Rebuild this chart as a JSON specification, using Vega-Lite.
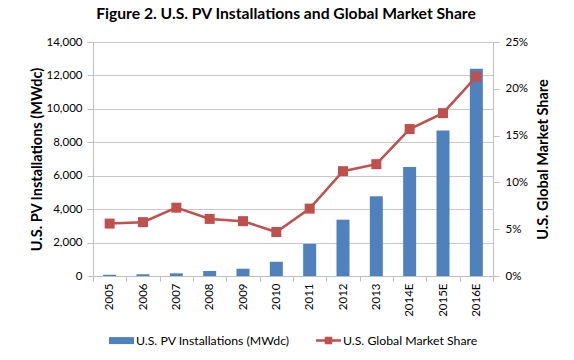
{
  "$schema": "https://vega.github.io/schema/vega-lite/v6.json",
  "width": 400,
  "height": 234,
  "autosize": {"type": "none"},
  "padding": {"left": 93, "top": 42, "right": 81, "bottom": 84},
  "background": "white",
  "title": {
    "text": "Figure 2. U.S. PV Installations and Global Market Share",
    "font": "Lato",
    "fontSize": 15.7,
    "fontWeight": "bold",
    "color": "#000000",
    "anchor": "middle",
    "offset": 13,
    "dx": -7
  },
  "data": {
    "values": [
      {"year": "2005", "mw": 79, "share": 0.056},
      {"year": "2006", "mw": 105, "share": 0.0575},
      {"year": "2007", "mw": 160, "share": 0.073},
      {"year": "2008", "mw": 300, "share": 0.061},
      {"year": "2009", "mw": 435, "share": 0.0586},
      {"year": "2010", "mw": 852, "share": 0.047},
      {"year": "2011", "mw": 1919, "share": 0.072},
      {"year": "2012", "mw": 3369, "share": 0.112},
      {"year": "2013", "mw": 4776, "share": 0.1195},
      {"year": "2014E", "mw": 6520, "share": 0.157},
      {"year": "2015E", "mw": 8700, "share": 0.174},
      {"year": "2016E", "mw": 12400, "share": 0.213}
    ]
  },
  "encoding": {
    "x": {
      "field": "year",
      "type": "ordinal",
      "sort": null,
      "scale": {"paddingInner": 0, "paddingOuter": 0},
      "axis": {
        "title": null,
        "labelAngle": -90,
        "labelFont": "Lato",
        "labelFontSize": 11.5,
        "labelColor": "#000000",
        "tickBand": "extent",
        "tickSize": 5,
        "tickColor": "#bfbfbf",
        "domainColor": "#bfbfbf",
        "labelPadding": 2,
        "grid": false
      }
    }
  },
  "layer": [
    {
      "mark": {"type": "bar", "size": 13},
      "encoding": {
        "y": {
          "field": "mw",
          "type": "quantitative",
          "scale": {"domain": [0, 14000], "nice": false},
          "axis": {
            "orient": "left",
            "values": [0, 2000, 4000, 6000, 8000, 10000, 12000, 14000],
            "format": ",d",
            "title": "U.S. PV Installations (MWdc)",
            "titleFont": "Lato",
            "titleFontSize": 14.5,
            "titleFontWeight": "bold",
            "titleColor": "#000000",
            "titlePadding": 2,
            "labelFont": "Lato",
            "labelFontSize": 11.5,
            "labelColor": "#000000",
            "tickSize": 6,
            "tickColor": "#bfbfbf",
            "domainColor": "#bfbfbf",
            "labelPadding": 5,
            "grid": true,
            "gridColor": "#c8c8c8"
          }
        },
        "color": {
          "datum": "U.S. PV Installations (MWdc)",
          "type": "nominal",
          "scale": {
            "domain": ["U.S. PV Installations (MWdc)", "U.S. Global Market Share"],
            "range": ["#4F81BD", "#C0504D"]
          },
          "legend": {
            "title": null,
            "orient": "bottom",
            "direction": "horizontal",
            "offset": 11,
            "labelFont": "Lato",
            "labelFontSize": 12.3,
            "labelColor": "#000000",
            "labelOffset": 2,
            "columnPadding": 26,
            "symbolSize": 625,
            "encode": {
              "symbols": {
                "update": {
                  "shape": {"signal": "datum.value === 'U.S. PV Installations (MWdc)' ? 'M-1,-0.28H1V0.28H-1Z' : 'M-1,-0.1H1V0.1H-1Z M-0.3,-0.3H0.3V0.3H-0.3Z'"},
                  "fill": {"signal": "datum.value === 'U.S. PV Installations (MWdc)' ? '#4F81BD' : '#C0504D'"},
                  "stroke": {"value": "transparent"},
                  "strokeWidth": {"value": 0},
                  "opacity": {"value": 1}
                }
              }
            }
          }
        }
      }
    },
    {
      "mark": {
        "type": "line",
        "strokeWidth": 2.5,
        "point": {"shape": "square", "size": 100, "filled": true, "opacity": 1}
      },
      "encoding": {
        "y": {
          "field": "share",
          "type": "quantitative",
          "scale": {"domain": [0, 0.25], "nice": false},
          "axis": {
            "orient": "right",
            "values": [0, 0.05, 0.1, 0.15, 0.2, 0.25],
            "format": ".0%",
            "title": "U.S. Global Market Share",
            "titleAngle": -90,
            "titleBaseline": "top",
            "titleFont": "Lato",
            "titleFontSize": 14.5,
            "titleFontWeight": "bold",
            "titleColor": "#000000",
            "titlePadding": 9,
            "labelFont": "Lato",
            "labelFontSize": 11.5,
            "labelColor": "#000000",
            "tickSize": 6,
            "tickColor": "#bfbfbf",
            "domainColor": "#bfbfbf",
            "labelPadding": 6,
            "grid": false
          }
        },
        "color": {
          "datum": "U.S. Global Market Share",
          "type": "nominal"
        }
      }
    }
  ],
  "resolve": {"scale": {"y": "independent"}},
  "config": {
    "view": {"stroke": null},
    "legend": {"layout": {"anchor": "middle"}}
  }
}
